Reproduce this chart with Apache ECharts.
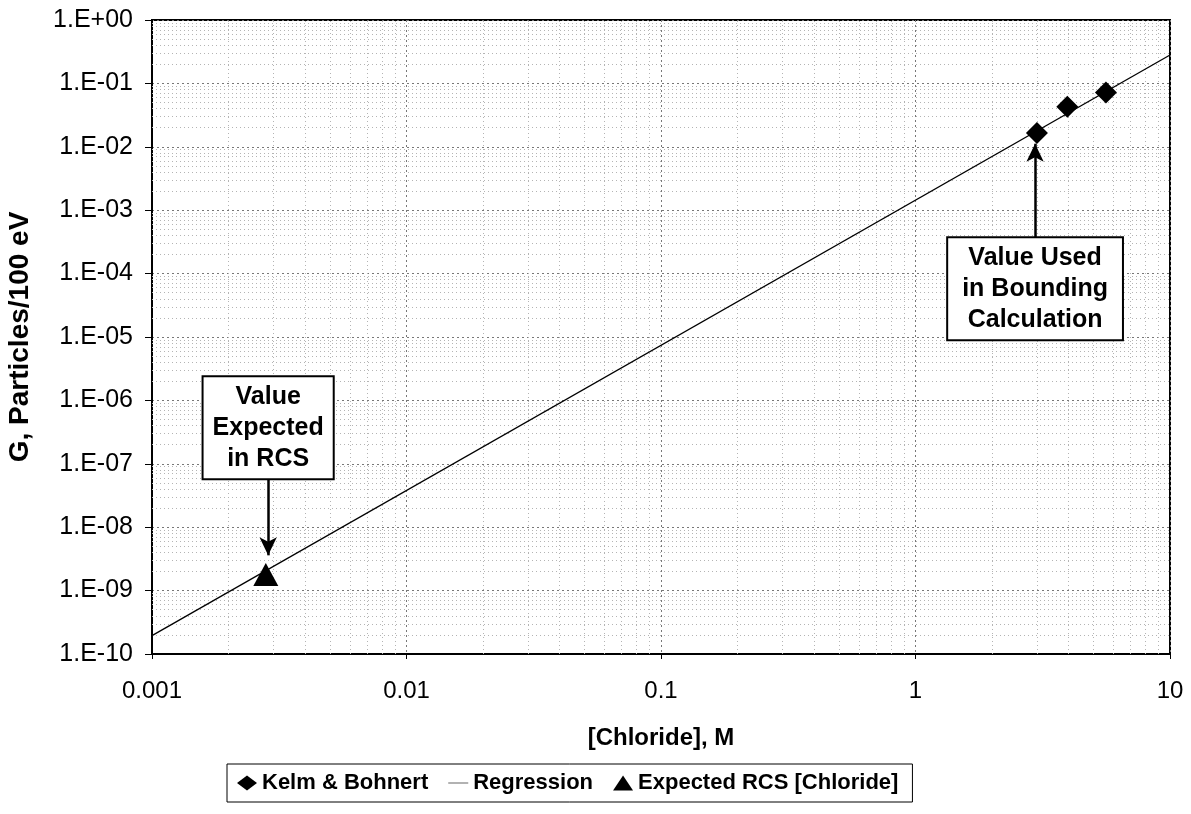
<!DOCTYPE html>
<html>
<head>
<meta charset="utf-8">
<script src="https://cdn.jsdelivr.net/npm/echarts@6/dist/echarts.min.js"></script>
<style>
html,body{margin:0;padding:0;background:#fff;}
#chart{width:1191px;height:814px;}
</style>
</head>
<body>
<div id="chart"></div>
<script>
// ---- data ----
const kelmX = [3.0, 3.95, 5.6];
const kelmY = [0.0165, 0.043, 0.072];
const regressionX = [0.001, 10];
const regressionY = [1.95e-10, 0.28];
const rcsX = [0.0028];
const rcsY = [1.8e-9];
const xTickLabels = ['0.001', '0.01', '0.1', '1', '10'];
const yDecades = [-10, -9, -8, -7, -6, -5, -4, -3, -2, -1, 0];
const xDecades = [-3, -2, -1, 0, 1];
const seriesNames = ['Kelm & Bohnert', 'Regression', 'Expected RCS [Chloride]'];
// annotation arrows (data coords): [x, yFrom, yTo]
const arrowUsed = [2.95, 3.6e-4, 0.0112];
const arrowRCS = [0.00286, 5.9e-8, 3.6e-9];

const FONT = '"Liberation Sans", Arial, sans-serif';

const xMin = Math.pow(10, xDecades[0]), xMax = Math.pow(10, xDecades[xDecades.length - 1]);
const yMin = Math.pow(10, yDecades[0]), yMax = Math.pow(10, yDecades[yDecades.length - 1]);

// minor log grid values (2..9 x 10^k)
const yMinor = [], xMinor = [];
for (let i = 0; i < yDecades.length - 1; i++) for (let m = 2; m <= 9; m++) yMinor.push(m * Math.pow(10, yDecades[i]));
for (let i = 0; i < xDecades.length - 1; i++) for (let m = 2; m <= 9; m++) xMinor.push(m * Math.pow(10, xDecades[i]));
const minorLines = xMinor.map(v => ({coords: [[v, yMin], [v, yMax]]}))
  .concat(yMinor.map(v => ({coords: [[xMin, v], [xMax, v]]})));

const zip = (a, b) => a.map((v, i) => [v, b[i]]);

function yFmt(v) {
  const e = Math.round(Math.log10(v));
  const s = e >= 0 ? '+' : '-';
  const a = Math.abs(e);
  return '1.E' + s + (a < 10 ? '0' + a : '' + a);
}
function xFmt(v) {
  const e = Math.round(Math.log10(v));
  return xTickLabels[e + 3] !== undefined ? xTickLabels[e + 3] : '';
}

const chart = echarts.init(document.getElementById('chart'), null, {renderer: 'canvas'});
const option = {
  backgroundColor: '#fff',
  animation: false,
  grid: {left: 152, right: 21, top: 20, bottom: 160, outerBoundsMode: 'none', containLabel: false,
    show: true, borderColor: '#000', borderWidth: 2, backgroundColor: 'transparent'},
  xAxis: {
    type: 'log', logBase: 10, min: xMin, max: xMax, interval: 1,
    name: '[Chloride], M', nameLocation: 'middle', nameGap: 72,
    nameTextStyle: {fontFamily: FONT, fontWeight: 'bold', fontSize: 24, color: '#000'},
    axisLine: {show: true, lineStyle: {color: '#000', width: 2}},
    axisTick: {show: true, length: 5, lineStyle: {color: '#000', width: 1}},
    axisLabel: {formatter: xFmt, fontFamily: FONT, fontSize: 24, color: '#000', margin: 25},
    splitLine: {show: true, lineStyle: {color: '#777', type: [2, 3], width: 1}},
    minorTick: {show: false}
  },
  yAxis: {
    type: 'log', logBase: 10, min: yMin, max: yMax, interval: 1,
    name: 'G, Particles/100 eV', nameLocation: 'middle', nameGap: 118, nameRotate: 90,
    nameTextStyle: {fontFamily: FONT, fontWeight: 'bold', fontSize: 28, color: '#000'},
    axisLine: {show: true, lineStyle: {color: '#000', width: 2}},
    axisTick: {show: true, length: 7, lineStyle: {color: '#000', width: 1}},
    axisLabel: {formatter: yFmt, fontFamily: FONT, fontSize: 25, color: '#000', margin: 19},
    splitLine: {show: true, lineStyle: {color: '#777', type: [2, 3], width: 1}}
  },
  legend: {
    data: [
      {name: seriesNames[0], icon: 'diamond'},
      {name: seriesNames[1], icon: 'path://M0,0 L0,0 M0,6.5 L22,6.5 L22,7.5 L0,7.5 Z M0,14 L0,14', itemStyle: {color: '#555'}},
      {name: seriesNames[2], icon: 'triangle'}
    ],
    left: 227, top: 764,
    orient: 'horizontal',
    itemWidth: 20, itemHeight: 15, itemGap: 20,
    padding: [8, 14, 8, 10],
    borderColor: '#000', borderWidth: 1, borderRadius: 0,
    backgroundColor: '#fff',
    textStyle: {fontFamily: FONT, fontWeight: 'bold', fontSize: 22, color: '#000'}
  },
  series: [
    {
      name: 'grid-minor', type: 'lines', coordinateSystem: 'cartesian2d', silent: true,
      polyline: false, z: 1,
      lineStyle: {color: '#b4b4b4', type: [1, 3], width: 1, opacity: 1},
      data: minorLines
    },
    {
      name: seriesNames[1], type: 'line', data: zip(regressionX, regressionY),
      symbol: 'none', showSymbol: false, lineStyle: {color: '#000', width: 1.3}, itemStyle: {color: '#000'},
      z: 3
    },
    {
      name: seriesNames[0], type: 'scatter', data: zip(kelmX, kelmY),
      symbol: 'diamond', symbolSize: [22, 22], itemStyle: {color: '#000', opacity: 1}, z: 5,
      markLine: {
        silent: true, symbol: ['none', 'arrow'], symbolSize: [13, 18], animation: false, precision: 12,
        label: {show: false},
        lineStyle: {color: '#000', type: 'solid', width: 2.5},
        data: [[{coord: [arrowUsed[0], arrowUsed[1]]}, {coord: [arrowUsed[0], arrowUsed[2]]}]]
      }
    },
    {
      name: seriesNames[2], type: 'scatter', data: zip(rcsX, rcsY),
      symbol: 'triangle', symbolSize: [25, 23], itemStyle: {color: '#000', opacity: 1}, z: 5,
      markLine: {
        silent: true, symbol: ['none', 'arrow'], symbolSize: [13, 18], animation: false, precision: 12,
        label: {show: false},
        lineStyle: {color: '#000', type: 'solid', width: 2.5},
        data: [[{coord: [arrowRCS[0], arrowRCS[1]]}, {coord: [arrowRCS[0], arrowRCS[2]]}]]
      }
    }
  ]
};
chart.setOption(option);

// annotation text boxes placed at the tail of each arrow
function boxAt(arrow, lines, where, padH) {
  const p = chart.convertToPixel({gridIndex: 0}, [arrow[0], arrow[1]]);
  return {
    type: 'text', z: 100,
    x: p[0], y: p[1],
    style: {
      text: lines.join('\n'),
      font: 'bold 25px ' + FONT,
      fill: '#000',
      align: 'center',
      verticalAlign: where,
      lineHeight: 31,
      backgroundColor: '#fff',
      borderColor: '#000',
      borderWidth: 2,
      padding: [4, padH, 4, padH]
    }
  };
}
chart.setOption({
  graphic: [
    boxAt(arrowUsed, ['Value Used', 'in Bounding', 'Calculation'], 'top', 14),
    boxAt(arrowRCS, ['Value', 'Expected', 'in RCS'], 'bottom', 9)
  ]
});
</script>
</body>
</html>
